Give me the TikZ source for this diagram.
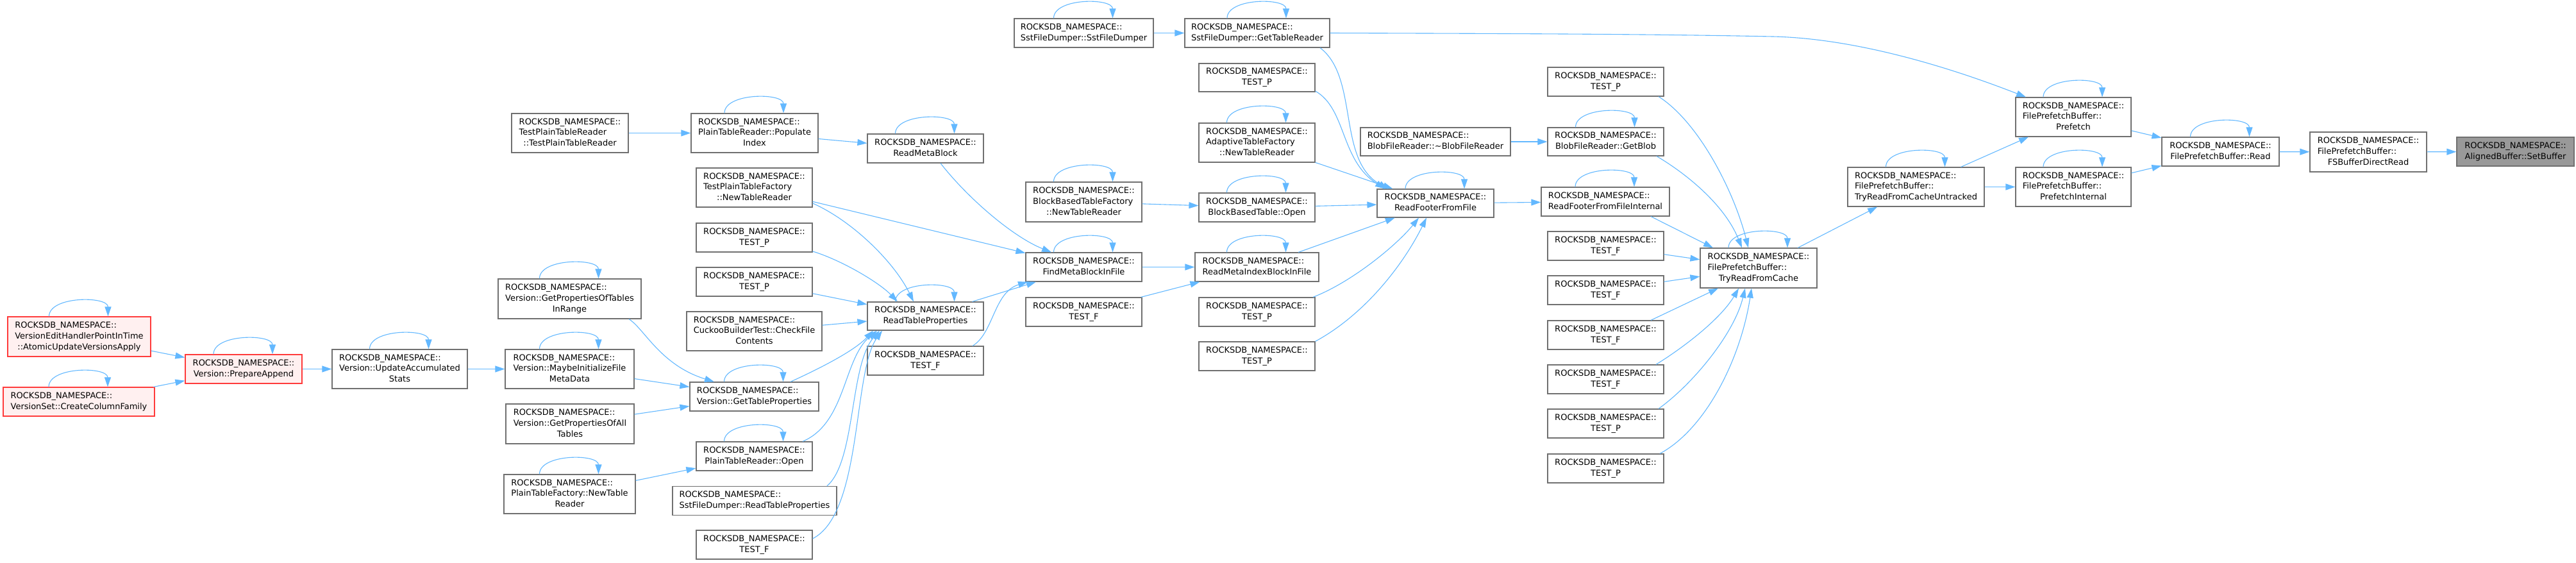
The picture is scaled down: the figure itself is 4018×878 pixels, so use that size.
\documentclass[tikz,border=0pt]{standalone}
\usepackage{fontspec}
\setmainfont{DejaVu Sans}
\usetikzlibrary{arrows.meta,calc}
\definecolor{edgeblue}{HTML}{63B8FF}
\definecolor{boxgray}{HTML}{707070}
\definecolor{redbrd}{HTML}{FF3B3B}
\definecolor{redfill}{HTML}{FFF0F0}
\definecolor{tgtfill}{HTML}{999999}
\newcommand\lbl[2]{\begin{tabular}{@{}l@{}}#1\\\multicolumn{1}{@{}c@{}}{#2}\end{tabular}}
\newcommand\RN{ROCKSDB\_NAMESPACE::}
\newcommand\loopon[1]{\draw[edge] ($(#1.north)+(-47,0)$) .. controls +(0,-32) and +(0,-32) .. ($(#1.north)+(45,0)$);}
\begin{document}
\begin{tikzpicture}[x=1pt,y=-1pt,
  box/.style={draw=boxgray,fill=white,line width=1.2pt,inner sep=0pt,
    font=\fontsize{13}{16.7}\selectfont},
  redbox/.style={box,draw=redbrd,fill=redfill},
  tgtbox/.style={box,draw=boxgray,fill=tgtfill},
  edge/.style={draw=edgeblue,line width=1.1pt,-{Triangle[length=15pt,width=10pt]}}]
\useasboundingbox (0,0) rectangle (4018,878);
% column A/B/C
\node[redbox,minimum width=223,minimum height=62] (veh) at (123.5,525) {\lbl{\RN\\VersionEditHandlerPointInTime}{::AtomicUpdateVersionsApply}};
\node[redbox,minimum width=236,minimum height=45] (ccf) at (123,626.5) {\lbl{\RN}{VersionSet::CreateColumnFamily}};
\node[redbox,minimum width=182,minimum height=45] (prep) at (380,575.5) {\lbl{\RN}{Version::PrepareAppend}};
\node[box,minimum width=211,minimum height=61] (uas) at (623.5,575.5) {\lbl{\RN\\Version::UpdateAccumulated}{Stats}};
% column D
\node[box,minimum width=182,minimum height=61] (tptr) at (889,207.5) {\lbl{\RN\\TestPlainTableReader}{::TestPlainTableReader}};
\node[box,minimum width=223,minimum height=62] (gpotir) at (888.5,466) {\lbl{\RN\\Version::GetPropertiesOfTables}{InRange}};
\node[box,minimum width=201,minimum height=61] (mifmd) at (888.5,575.5) {\lbl{\RN\\Version::MaybeInitializeFile}{MetaData}};
\node[box,minimum width=200,minimum height=62] (gpoat) at (889,661) {\lbl{\RN\\Version::GetPropertiesOfAll}{Tables}};
\node[box,minimum width=205,minimum height=61] (ptfntr) at (888.5,770.5) {\lbl{\RN\\PlainTableFactory::NewTable}{Reader}};
% column E
\node[box,minimum width=198,minimum height=61] (popidx) at (1177,207.5) {\lbl{\RN\\PlainTableReader::Populate}{Index}};
\node[box,minimum width=181,minimum height=61] (tptfntr) at (1176.5,292.5) {\lbl{\RN\\TestPlainTableFactory}{::NewTableReader}};
\node[box,minimum width=181,minimum height=45] (tp1) at (1176.5,370.5) {\lbl{\RN}{TEST\_P}};
\node[box,minimum width=181,minimum height=45] (tp2) at (1176.5,439.5) {\lbl{\RN}{TEST\_P}};
\node[box,minimum width=211,minimum height=61] (cuckoo) at (1176.5,516.5) {\lbl{\RN\\CuckooBuilderTest::CheckFile}{Contents}};
\node[box,minimum width=201,minimum height=45] (gtp) at (1176.5,618.5) {\lbl{\RN}{Version::GetTableProperties}};
\node[box,minimum width=181,minimum height=45] (ptropen) at (1176.5,711.5) {\lbl{\RN}{PlainTableReader::Open}};
\node[box,minimum width=256,minimum height=45] (sfdrtp) at (1177,781) {\lbl{\RN}{SstFileDumper::ReadTableProperties}};
\node[box,minimum width=181,minimum height=45] (tfL) at (1176.5,849.5) {\lbl{\RN}{TEST\_F}};
% column F
\node[box,minimum width=181,minimum height=45] (rmb) at (1443.5,231.5) {\lbl{\RN}{ReadMetaBlock}};
\node[box,minimum width=181,minimum height=44] (rtp) at (1443.5,493) {\lbl{\RN}{ReadTableProperties}};
\node[box,minimum width=181,minimum height=45] (tfF) at (1443.5,562.5) {\lbl{\RN}{TEST\_F}};
% column G
\node[box,minimum width=217,minimum height=45] (sfdsfd) at (1690.5,51.5) {\lbl{\RN}{SstFileDumper::SstFileDumper}};
\node[box,minimum width=181,minimum height=62] (bbtf) at (1690.5,315) {\lbl{\RN\\BlockBasedTableFactory}{::NewTableReader}};
\node[box,minimum width=181,minimum height=45] (fmbif) at (1690.5,416.5) {\lbl{\RN}{FindMetaBlockInFile}};
\node[box,minimum width=181,minimum height=45] (tfG) at (1690.5,486.5) {\lbl{\RN}{TEST\_F}};
% column H
\node[box,minimum width=226,minimum height=45] (gtr) at (1961,51.5) {\lbl{\RN}{SstFileDumper::GetTableReader}};
\node[box,minimum width=181,minimum height=44] (tpH1) at (1960.5,121) {\lbl{\RN}{TEST\_P}};
\node[box,minimum width=181,minimum height=61] (atf) at (1960.5,222.5) {\lbl{\RN\\AdaptiveTableFactory}{::NewTableReader}};
\node[box,minimum width=181,minimum height=45] (bbtopen) at (1960.5,323.5) {\lbl{\RN}{BlockBasedTable::Open}};
\node[box,minimum width=193,minimum height=45] (rmibif) at (1960.5,416.5) {\lbl{\RN}{ReadMetaIndexBlockInFile}};
\node[box,minimum width=181,minimum height=45] (tpH2) at (1960.5,486.5) {\lbl{\RN}{TEST\_P}};
\node[box,minimum width=181,minimum height=45] (tpH3) at (1960.5,555.5) {\lbl{\RN}{TEST\_P}};
% column I
\node[box,minimum width=234,minimum height=44] (bfrd) at (2239,221) {\lbl{\RN}{BlobFileReader::\textasciitilde BlobFileReader}};
\node[box,minimum width=182,minimum height=44] (rfff) at (2239,317) {\lbl{\RN}{ReadFooterFromFile}};
% column J
\node[box,minimum width=181,minimum height=45] (tpJ) at (2504.5,127.5) {\lbl{\RN}{TEST\_P}};
\node[box,minimum width=181,minimum height=44] (getblob) at (2504.5,221) {\lbl{\RN}{BlobFileReader::GetBlob}};
\node[box,minimum width=200,minimum height=45] (rfffi) at (2504,314.5) {\lbl{\RN}{ReadFooterFromFileInternal}};
\node[box,minimum width=181,minimum height=45] (tfJ1) at (2504.5,383.5) {\lbl{\RN}{TEST\_F}};
\node[box,minimum width=181,minimum height=45] (tfJ2) at (2504.5,452.5) {\lbl{\RN}{TEST\_F}};
\node[box,minimum width=181,minimum height=45] (tfJ3) at (2504.5,522.5) {\lbl{\RN}{TEST\_F}};
\node[box,minimum width=181,minimum height=45] (tfJ4) at (2504.5,591.5) {\lbl{\RN}{TEST\_F}};
\node[box,minimum width=181,minimum height=45] (tpJ5) at (2504.5,660.5) {\lbl{\RN}{TEST\_P}};
\node[box,minimum width=181,minimum height=45] (tpJ6) at (2504.5,730.5) {\lbl{\RN}{TEST\_P}};
% right part
\node[box,minimum width=182,minimum height=62] (trfc) at (2743,418) {\lbl{\RN\\FilePrefetchBuffer::}{TryReadFromCache}};
\node[box,minimum width=213,minimum height=61] (trfcu) at (2988.5,291.5) {\lbl{\RN\\FilePrefetchBuffer::}{TryReadFromCacheUntracked}};
\node[box,minimum width=180,minimum height=61] (prefetch) at (3234,182.5) {\lbl{\RN\\FilePrefetchBuffer::}{Prefetch}};
\node[box,minimum width=180,minimum height=61] (prefint) at (3234,291.5) {\lbl{\RN\\FilePrefetchBuffer::}{PrefetchInternal}};
\node[box,minimum width=183,minimum height=45] (read) at (3463.5,236.5) {\lbl{\RN}{FilePrefetchBuffer::Read}};
\node[box,minimum width=182,minimum height=62] (fsbdr) at (3694,237) {\lbl{\RN\\FilePrefetchBuffer::}{FSBufferDirectRead}};
\node[tgtbox,minimum width=183,minimum height=45] (setbuf) at (3923.5,236.5) {\lbl{\RN}{AlignedBuffer::SetBuffer}};
% self loops
\foreach \n in {veh,ccf,prep,uas,gpotir,mifmd,gtp,ptfntr,ptropen,popidx,rmb,rtp,sfdsfd,bbtf,fmbif,gtr,atf,bbtopen,rmibif,rfff,getblob,rfffi,trfc,trfcu,prefetch,prefint,read}{\loopon{\n}}
% straight edges
\draw[edge] (veh) -- (prep);
\draw[edge] (ccf) -- (prep);
\draw[edge] (prep) -- (uas);
\draw[edge] (uas) -- (mifmd);
\draw[edge] (mifmd) -- (gtp);
\draw[edge] (gpoat) -- (gtp);
\draw[edge] (ptfntr) -- (ptropen);
\draw[edge] (tptr) -- (popidx);
\draw[edge] (popidx) -- (rmb);
\draw[edge] (tptfntr) -- (fmbif);
\draw[edge] (tp2) -- (rtp);
\draw[edge] (cuckoo) -- (rtp);
\draw[edge] (rtp) -- (fmbif);
\draw[edge] (bbtf) -- (bbtopen);
\draw[edge] (fmbif) -- (rmibif);
\draw[edge] (tfG) -- (rmibif);
\draw[edge] (sfdsfd) -- (gtr);
\draw[edge] (atf) -- (rfff);
\draw[edge] (bbtopen) -- (rfff);
\draw[edge] (rmibif) -- (rfff);
\draw[edge] (rfff) -- (rfffi);
\draw[edge] (bfrd) -- (getblob);
\draw[edge] ($(rfffi.south)+(71,0)$) -- ($(trfc.north)+(-71,0)$);
\draw[edge] (tfJ1) -- (trfc);
\draw[edge] (tfJ2) -- (trfc);
\draw[edge] ($(tfJ3.north)+(70.5,0)$) -- ($(trfc.south)+(-63,0)$);
\draw[edge] (trfc) -- (trfcu);
\draw[edge] (trfcu) -- (prefetch);
\draw[edge] (trfcu) -- (prefint);
\draw[edge] (prefetch) -- (read);
\draw[edge] (prefint) -- (read);
\draw[edge] (read) -- (fsbdr);
\draw[edge] (fsbdr) -- (setbuf);
% curved edges
\draw[edge] ($(gpotir.south)+(92.5,0)$) .. controls +(24,15) and +(-84,-26) .. ($(gtp.north)+(-62.5,0)$);
\draw[edge] ($(tptfntr.east)+(0,24.5)$) .. controls +(63,28) and +(-30,-61) .. ($(rtp.north)+(-18.5,0)$);
\draw[edge] ($(tp1.east)+(0,21.5)$) .. controls +(43,13) and +(-30,-31) .. ($(rtp.north)+(-43.5,0)$);
\draw[edge] ($(gtp.north)+(56.5,0)$) .. controls +(57,-26) and +(-27,29) .. ($(rtp.south)+(-81.5,0)$);
\draw[edge] ($(ptropen.north)+(75.5,0)$) .. controls +(68,-29) and +(-53,44) .. ($(rtp.south)+(-75.5,0)$);
\draw[edge] ($(sfdrtp.north)+(113,0)$) .. controls +(45,-39) and +(-47,54) .. ($(rtp.south)+(-71.5,0)$);
\draw[edge] ($(tfL.east)+(0,-9.5)$) .. controls +(78,-40) and +(-46,64) .. ($(rtp.south)+(-67.5,0)$);
\draw[edge] ($(rmb.south)+(23.5,0)$) .. controls +(43,55) and +(-60,-24) .. ($(fmbif.north)+(-50.5,0)$);
\draw[edge] ($(tfF.north)+(73.5,0)$) .. controls +(33,-20) and +(-53,16) .. ($(fmbif.south)+(-87.5,0)$);
\draw[edge] ($(gtr.south)+(98,0)$) .. controls +(61,46) and +(-80,-45) .. ($(rfff.north)+(-74,0)$);
\draw[edge] ($(tpH1.east)+(0,21)$) .. controls +(49,28) and +(-70,-45) .. ($(rfff.north)+(-79,0)$);
\draw[edge] ($(tpH2.north)+(87.5,0)$) .. controls +(62,-24) and +(-33,41) .. ($(rfff.south)+(-26,0)$);
\draw[edge] (tpH3.north east) .. controls +(79,-43) and +(-35,71) .. ($(rfff.south)+(-14,0)$);
\draw[edge] ($(getblob.south)+(79.5,0)$) .. controls +(46,27) and +(-27,-67) .. ($(trfc.north)+(-26,0)$);
\draw[edge] ($(tpJ.south)+(82.5,0)$) .. controls +(63,40) and +(-22,-87) .. ($(trfc.north)+(-16,0)$);
\draw[edge] ($(tfJ4.north)+(78.5,0)$) .. controls +(47,-29) and +(-27,46) .. ($(trfc.south)+(-31,0)$);
\draw[edge] ($(tpJ5.north)+(82.5,0)$) .. controls +(53,-38) and +(-17,71) .. ($(trfc.south)+(-21,0)$);
\draw[edge] ($(tpJ6.north)+(84.5,0)$) .. controls +(71,-38) and +(-17,111) .. ($(trfc.south)+(-11,0)$);
\draw[edge] (gtr.east) .. controls +(300,1) and +(-200,-4) .. (2765,57) .. controls +(135,3) and +(-110,-43) .. ($(prefetch.north)+(-74,0)$);
\end{tikzpicture}
\end{document}
